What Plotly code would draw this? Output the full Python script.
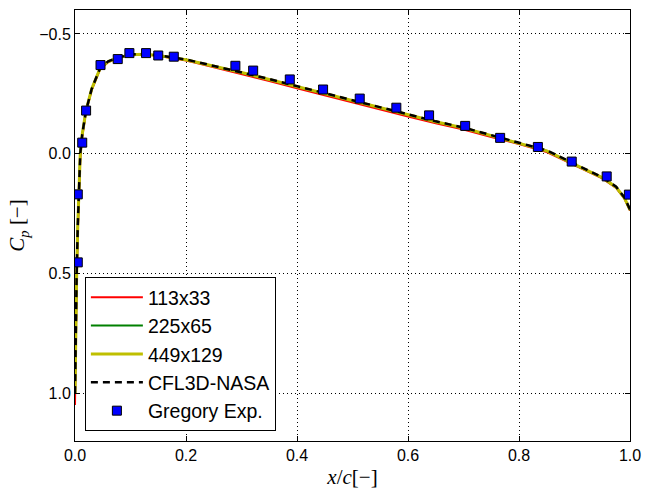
import plotly.graph_objects as go

# CFD surface pressure (upper surface)
x_cfd = [0.0, 0.0005, 0.001, 0.002, 0.003, 0.005, 0.007, 0.0095, 0.013, 0.0196, 0.03,
         0.045, 0.06, 0.077, 0.1, 0.125, 0.15, 0.175, 0.2, 0.223, 0.25, 0.3, 0.35,
         0.4, 0.45, 0.5, 0.55, 0.6, 0.65, 0.7, 0.75, 0.8, 0.85, 0.9, 0.95, 0.975,
         0.99, 1.0]
cp_449 = [1.0, 0.85, 0.75, 0.6, 0.5, 0.3, 0.13, 0.0, -0.08, -0.177, -0.27,
          -0.355, -0.385, -0.4, -0.413, -0.415, -0.41, -0.402, -0.392, -0.38, -0.366,
          -0.339, -0.31, -0.28, -0.25, -0.22, -0.19, -0.162, -0.133, -0.107, -0.075,
          -0.045, -0.012, 0.045, 0.1, 0.14, 0.185, 0.235]
cp_225 = [1.0, 0.85, 0.75, 0.6, 0.5, 0.3, 0.13, 0.0, -0.08, -0.177, -0.27,
          -0.355, -0.385, -0.4, -0.413, -0.415, -0.41, -0.402, -0.392, -0.38, -0.366,
          -0.338, -0.309, -0.279, -0.249, -0.219, -0.189, -0.161, -0.132, -0.106, -0.074,
          -0.044, -0.011, 0.046, 0.101, 0.141, 0.186, 0.236]
x_113 = [0.0, 0.0005, 0.001, 0.002, 0.003, 0.005, 0.007, 0.0095, 0.013, 0.0196, 0.03,
         0.045, 0.06, 0.077, 0.1, 0.125, 0.15, 0.175, 0.2, 0.223, 0.25, 0.3, 0.35,
         0.4, 0.45, 0.5, 0.55, 0.6, 0.65, 0.7, 0.75, 0.8, 0.85, 0.9, 0.95, 0.975,
         0.99, 1.0]
cp_113 = [1.05, 0.9, 0.8, 0.63, 0.53, 0.33, 0.16, 0.02, -0.07, -0.172, -0.265,
          -0.352, -0.383, -0.399, -0.412, -0.414, -0.409, -0.4, -0.389, -0.376, -0.361,
          -0.333, -0.303, -0.273, -0.243, -0.213, -0.183, -0.155, -0.127, -0.101, -0.069,
          -0.04, -0.007, 0.049, 0.103, 0.143, 0.188, 0.238]
cp_nasa = [1.0, 0.85, 0.75, 0.6, 0.5, 0.3, 0.13, 0.0, -0.08, -0.177, -0.27,
           -0.356, -0.386, -0.401, -0.414, -0.416, -0.411, -0.403, -0.393, -0.381, -0.367,
           -0.341, -0.312, -0.282, -0.252, -0.222, -0.192, -0.164, -0.135, -0.109, -0.077,
           -0.047, -0.014, 0.043, 0.098, 0.138, 0.183, 0.233]

# Gregory experimental data
x_exp = [0.005, 0.005, 0.013, 0.02, 0.046, 0.077, 0.098, 0.128, 0.15, 0.178,
         0.289, 0.321, 0.387, 0.447, 0.513, 0.579, 0.638, 0.703, 0.766, 0.834,
         0.895, 0.958, 0.998]
cp_exp = [0.454, 0.17, -0.046, -0.18, -0.37, -0.395, -0.42, -0.42, -0.41, -0.405,
          -0.367, -0.347, -0.31, -0.268, -0.23, -0.192, -0.16, -0.116, -0.066, -0.028,
          0.033, 0.095, 0.171]

labels = ["113x33", "225x65", "449x129", "CFL3D-NASA", "Gregory Exp."]

fig = go.Figure()
fig.add_trace(go.Scatter(x=x_113, y=cp_113, mode="lines", name=labels[0],
                         line=dict(color="#ff0000", width=2), legendgroup="a"))
fig.add_trace(go.Scatter(x=x_cfd, y=cp_225, mode="lines", name=labels[1],
                         line=dict(color="#008000", width=2), legendgroup="b"))
fig.add_trace(go.Scatter(x=x_cfd, y=cp_449, mode="lines", name=labels[2],
                         line=dict(color="#bfbf00", width=3), legendgroup="c"))
fig.add_trace(go.Scatter(x=x_cfd, y=cp_nasa, mode="lines", name=labels[3],
                         line=dict(color="black", width=2.5, dash="7px,5px"), legendgroup="d"))
fig.add_trace(go.Scatter(x=x_exp, y=cp_exp, mode="markers", name=labels[4],
                         marker=dict(symbol="square", size=9, color="#0000ff",
                                     line=dict(color="black", width=1)), legendgroup="e"))

axis_common = dict(
    showline=True, linecolor="black", linewidth=1, mirror="ticks",
    ticks="inside", ticklen=5, tickcolor="black", tickwidth=1,
    showgrid=True, gridcolor="black", gridwidth=1, griddash="1px,3px",
    zeroline=False,
    tickfont=dict(family="Liberation Sans, Arial, sans-serif", size=16, color="black"),
)

fig.update_layout(
    width=650, height=494,
    margin=dict(l=75, r=14, t=9, b=51),
    paper_bgcolor="white", plot_bgcolor="white",
    xaxis=dict(range=[0, 1], dtick=0.2, tickformat=".1f",
               title=dict(text="<i>x</i>/<i>c</i>[−]", standoff=6,
                          font=dict(family="Liberation Serif, serif", size=21, color="black")),
               **axis_common),
    yaxis=dict(range=[1.2, -0.6], tickvals=[-0.5, 0.0, 0.5, 1.0], tickformat=".1f",
               title=dict(text="<i>C<sub>p</sub></i> [−]", standoff=8,
                          font=dict(family="Liberation Serif, serif", size=21, color="black")),
               **axis_common),
    legend=dict(x=0.0178, y=0.023, xanchor="left", yanchor="bottom",
                bgcolor="white", bordercolor="black", borderwidth=1,
                font=dict(family="Liberation Sans, Arial, sans-serif", size=19.5, color="black"),
                traceorder="grouped", tracegroupgap=0, itemwidth=52),
    showlegend=True,
)

fig.write_html("out.html")
